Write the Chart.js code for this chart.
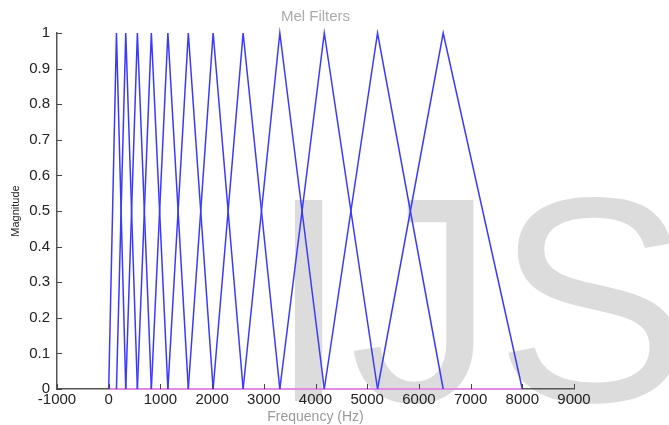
<!DOCTYPE html>
<html>
<head>
<meta charset="utf-8">
<script src="https://cdn.jsdelivr.net/npm/chart.js@4/dist/chart.umd.min.js"></script>
<style>
  html, body { margin: 0; padding: 0; background: #ffffff; }
  #wrap { width: 669px; height: 425px; position: relative; }
</style>
</head>
<body>
<div id="wrap"><canvas id="c" width="669" height="425"></canvas></div>
<script>
// Triangular mel filters (Hz): lower edge, peak, upper edge
const filterLow    = [0,   150, 330, 555, 825, 1145, 1540, 2020, 2600, 3310, 4170, 5200];
const filterPeak   = [150, 330, 555, 825, 1145, 1540, 2020, 2600, 3310, 4170, 5200, 6470];
const filterHigh   = [330, 555, 825, 1145, 1540, 2020, 2600, 3310, 4170, 5200, 6470, 8000];
const filterLevels = [0, 1, 0];
// zero-level trace along the axis (Hz)
const zeroTraceHz  = [0, 8000];
// axis ticks
const xTickValues  = [-1000, 0, 1000, 2000, 3000, 4000, 5000, 6000, 7000, 8000, 9000];
const yTickValues  = [0, 0.1, 0.2, 0.3, 0.4, 0.5, 0.6, 0.7, 0.8, 0.9, 1];

const FONT = '"Liberation Sans", Arial, Helvetica, sans-serif';

const datasets = filterPeak.map((p, i) => ({
  label: 'Filter ' + (i + 1),
  data: [
    { x: filterLow[i],  y: filterLevels[0] },
    { x: p,             y: filterLevels[1] },
    { x: filterHigh[i], y: filterLevels[2] }
  ],
  borderColor: '#3a3aff',
  borderWidth: 1.5,
  pointRadius: 0,
  fill: false,
  tension: 0,
  clip: false
}));
datasets.push({
  label: 'zero',
  data: zeroTraceHz.map(x => ({ x: x, y: 0 })),
  borderColor: '#e38ae3',
  borderWidth: 2.2,
  pointRadius: 0,
  fill: false,
  clip: false
});

const decor = {
  id: 'decor',
  beforeDraw(chart) {
    const ctx = chart.ctx;
    ctx.save();
    ctx.fillStyle = '#dcdcdc';
    ctx.font = '292px ' + FONT;
    ctx.textBaseline = 'alphabetic';
    ctx.textAlign = 'left';
    ctx.fillText('IJS', 268, 401);
    ctx.restore();
  },
  afterDatasetsDraw(chart) {
    const ctx = chart.ctx;
    const xs = chart.scales.x, ys = chart.scales.y;
    const a = chart.chartArea;
    ctx.save();
    ctx.strokeStyle = '#444';
    ctx.lineWidth = 1;
    ctx.beginPath();
    xTickValues.forEach(v => {
      const px = Math.round(xs.getPixelForValue(v)) + 0.5;
      ctx.moveTo(px, a.bottom);
      ctx.lineTo(px, a.bottom - 5);
    });
    yTickValues.forEach(v => {
      const py = Math.round(ys.getPixelForValue(v)) + 0.5;
      ctx.moveTo(a.left, py);
      ctx.lineTo(a.left + 5, py);
    });
    ctx.stroke();
    // plot title
    ctx.fillStyle = '#ababab';
    ctx.font = '15px ' + FONT;
    ctx.textAlign = 'center';
    ctx.textBaseline = 'middle';
    ctx.fillText('Mel Filters', (a.left + a.right) / 2, 17);
    ctx.restore();
  }
};

new Chart(document.getElementById('c'), {
  type: 'line',
  data: { datasets: datasets },
  options: {
    responsive: false,
    animation: false,
    layout: { padding: { top: 33, right: 95, left: 0, bottom: 0 } },
    plugins: {
      legend: { display: false },
      tooltip: { enabled: false },
      title: { display: false }
    },
    scales: {
      x: {
        type: 'linear',
        min: -1000,
        max: 9000,
        afterBuildTicks: s => { s.ticks = xTickValues.map(v => ({ value: v })); },
        afterFit: s => { s.height = 36; },
        grid: { display: false, drawTicks: false },
        border: { display: true, color: '#555', width: 1.5 },
        ticks: {
          color: '#222',
          font: { family: FONT, size: 15 },
          padding: 2,
          maxRotation: 0,
          autoSkip: false,
          callback: v => String(v)
        },
        title: {
          display: true,
          text: 'Frequency (Hz)',
          color: '#9a9a9a',
          font: { family: FONT, size: 14, lineHeight: 1 },
          padding: { top: 0, bottom: 1 }
        }
      },
      y: {
        type: 'linear',
        min: 0,
        max: 1,
        afterBuildTicks: s => { s.ticks = yTickValues.map(v => ({ value: v })); },
        afterFit: s => { s.width = 57; },
        grid: { display: false, drawTicks: false },
        border: { display: true, color: '#555', width: 1.5 },
        ticks: {
          color: '#222',
          font: { family: FONT, size: 15 },
          padding: 7,
          autoSkip: false,
          callback: v => String(+Number(v).toFixed(1))
        },
        title: {
          display: true,
          text: 'Magnitude',
          color: '#222',
          font: { family: FONT, size: 11 },
          padding: { top: 9, bottom: 0 }
        }
      }
    }
  },
  plugins: [decor]
});
</script>
</body>
</html>
